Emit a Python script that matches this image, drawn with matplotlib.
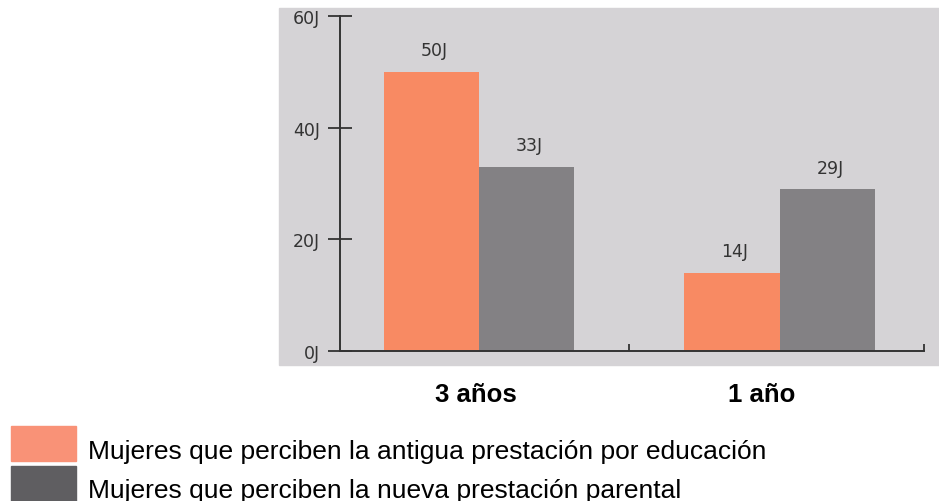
import matplotlib
matplotlib.use("Agg")
import matplotlib.pyplot as plt
from matplotlib.patches import Rectangle

categories = ["3 años", "1 año"]
antigua = [50, 14]
nueva = [33, 29]
value_labels_antigua = ["50J", "14J"]
value_labels_nueva = ["33J", "29J"]
y_ticks = [0, 20, 40, 60]
y_tick_labels = ["0J", "20J", "40J", "60J"]
legend_labels = [
    "Mujeres que perciben la antigua prestación por educación",
    "Mujeres que perciben la nueva prestación parental",
]

orange = "#f88a63"
grey = "#838184"
bg = "#d5d3d6"
axis_col = "#333333"

W, H = 939, 502
fig = plt.figure(figsize=(W / 100, H / 100), dpi=100)

# grey panel behind the plot
fig.add_artist(Rectangle((279 / W, (H - 366) / H), 660 / W, 357 / H,
                         transform=fig.transFigure, color=bg, zorder=0))

ax = fig.add_axes([340 / W, (H - 352) / H, 584 / W, 335 / H])
ax.patch.set_alpha(0)

x = list(range(len(categories)))
bw = 0.317
xmin, xmax = -0.463, 1.48
b1 = ax.bar([i - bw / 2 for i in x], antigua, bw, color=orange)
b2 = ax.bar([i + bw / 2 for i in x], nueva, bw, color=grey)

for rects, labels in ((b1, value_labels_antigua), (b2, value_labels_nueva)):
    for r, lab in zip(rects, labels):
        ax.annotate(lab, (r.get_x() + r.get_width() / 2, r.get_height()),
                    xytext=(2, 9), textcoords="offset points",
                    ha="center", va="bottom", fontsize=12.5, color=axis_col,
                    family="DejaVu Sans")

ax.set_xlim(xmin, xmax)
ax.set_ylim(0, 60)

for s in ("top", "right"):
    ax.spines[s].set_visible(False)
for s in ("left", "bottom"):
    ax.spines[s].set_color(axis_col)
    ax.spines[s].set_linewidth(1.4)

ax.set_yticks(y_ticks, y_tick_labels, fontsize=12.5, color=axis_col, family="DejaVu Sans")
ax.tick_params(axis="y", direction="inout", length=17, width=1.3, color=axis_col, pad=6)

# category labels sit a little left of the group centres in the original
label_x = [-0.01, 0.94]
ax.set_xticks(label_x, categories, fontsize=18.5, fontweight="bold", family="Liberation Sans")
ax.tick_params(axis="x", which="major", length=0, pad=22)
ax.set_xticks([0.5, xmax], minor=True)
ax.tick_params(axis="x", which="minor", direction="in", length=5, width=1.3, color=axis_col)

# legend
sw_colors = ["#f99277", "#5f5e61"]
sw_tops = [427, 467]
baselines = [459, 498]
for c, top, base, lab in zip(sw_colors, sw_tops, baselines, legend_labels):
    fig.add_artist(Rectangle((11 / W, (H - top - 35) / H), 65 / W, 35 / H,
                             transform=fig.transFigure, color=c))
    fig.text(88 / W, (H - base) / H, lab, fontsize=19,
             family="Liberation Sans", va="baseline", ha="left")

fig.savefig("out.png", dpi=100)
